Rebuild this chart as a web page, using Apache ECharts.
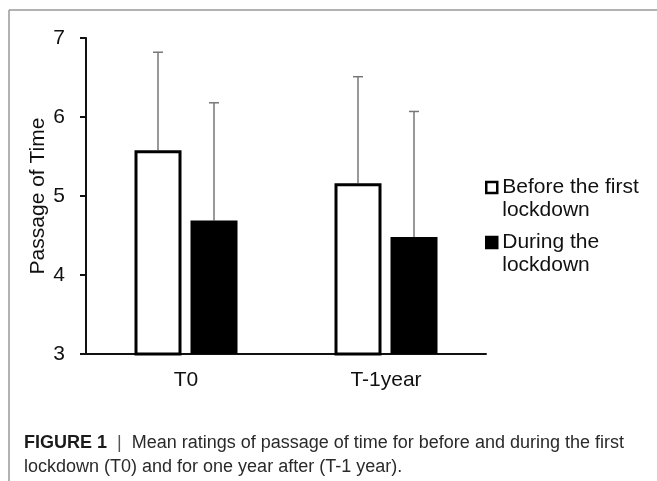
<!DOCTYPE html>
<html>
<head>
<meta charset="utf-8">
<script src="https://cdn.jsdelivr.net/npm/echarts@6/dist/echarts.min.js"></script>
<style>
html,body{margin:0;padding:0;background:#fff;}
#chart{width:657px;height:481px;}
</style>
</head>
<body>
<div id="chart"></div>
<script>
var categories = ['T0', 'T-1year'];
var seriesNames = ['Before the first lockdown', 'During the lockdown'];
var legendLines = [['Before the first', 'lockdown'], ['During the', 'lockdown']];
var beforeMeans = [5.58, 5.16];
var beforeUpper = [6.82, 6.51];
var duringMeans = [4.69, 4.48];
var duringUpper = [6.18, 6.07];
var yTicks = [3, 4, 5, 6, 7];

var BAR_W = 47;
var BAR_GAP_PX = 9;
var chart = echarts.init(document.getElementById('chart'));
var font = 'Liberation Sans, Arial, sans-serif';

function errorSeries(means, uppers, side) {
  var data = means.map(function (m, i) { return [i, m, uppers[i]]; });
  return {
    type: 'custom',
    silent: true,
    z: 1,
    data: data,
    renderItem: function (params, api) {
      var cat = api.value(0);
      var lo = api.coord([cat, api.value(1)]);
      var hi = api.coord([cat, api.value(2)]);
      var off = side * (BAR_W + BAR_GAP_PX) / 2;
      var x = lo[0] + off;
      var cap = 5;
      var st = { stroke: '#777', lineWidth: 1.5 };
      return {
        type: 'group',
        children: [
          { type: 'line', shape: { x1: x, y1: lo[1], x2: x, y2: hi[1] }, style: st },
          { type: 'line', shape: { x1: x - cap, y1: hi[1], x2: x + cap, y2: hi[1] }, style: st }
        ]
      };
    }
  };
}

chart.setOption({
  animation: false,
  backgroundColor: '#fff',
  grid: { left: 86, right: 171, top: 38, bottom: 127 },
  xAxis: {
    type: 'category',
    data: categories,
    axisLine: { lineStyle: { color: '#111', width: 2 } },
    axisTick: { show: false },
    axisLabel: { color: '#111', fontSize: 21, fontFamily: font, margin: 16 }
  },
  yAxis: {
    type: 'value',
    min: yTicks[0],
    max: yTicks[yTicks.length - 1],
    interval: 1,
    name: 'Passage of Time',
    nameLocation: 'middle',
    nameGap: 37,
    nameMoveOverlap: false,
    nameRotate: 90,
    nameTextStyle: { color: '#111', fontSize: 21, fontFamily: font },
    splitLine: { show: false },
    axisLine: { show: true, lineStyle: { color: '#111', width: 2 } },
    axisTick: { show: true, length: 6, lineStyle: { color: '#111', width: 2 } },
    axisLabel: { color: '#111', fontSize: 21, fontFamily: font, margin: 21 }
  },
  legend: {
    orient: 'vertical',
    left: 485,
    top: 153,
    padding: 0,
    itemWidth: 11,
    itemHeight: 11,
    itemGap: -14,
    data: seriesNames.map(function (n) {
      return { name: n, icon: 'rect', itemStyle: { borderColor: '#000', borderWidth: 2.5 } };
    }),
    formatter: function (n) {
      var l = legendLines[seriesNames.indexOf(n)];
      return ' \n' + l[0] + '\n' + l[1];
    },
    textStyle: { color: '#111', fontSize: 21, fontFamily: font, lineHeight: 23 }
  },
  series: [
    {
      name: seriesNames[0],
      type: 'bar',
      data: beforeMeans,
      barWidth: BAR_W,
      barGap: (BAR_GAP_PX / BAR_W * 100) + '%',
      itemStyle: { color: '#fff', borderColor: '#000', borderWidth: 3 },
      z: 2
    },
    {
      name: seriesNames[1],
      type: 'bar',
      data: duringMeans,
      barWidth: BAR_W,
      itemStyle: { color: '#000', borderColor: '#000', borderWidth: 0 },
      z: 2
    },
    errorSeries(beforeMeans, beforeUpper, -1),
    errorSeries(duringMeans, duringUpper, 1)
  ],
  graphic: [
    { type: 'line', shape: { x1: 9, y1: 10, x2: 657, y2: 10 }, style: { stroke: '#999', lineWidth: 1.5 } },
    { type: 'line', shape: { x1: 9, y1: 10, x2: 9, y2: 481 }, style: { stroke: '#999', lineWidth: 1.5 } },
    {
      type: 'text', left: 24, top: 431,
      style: {
        text: '{b|FIGURE 1}  {s||}  Mean ratings of passage of time for before and during the first\nlockdown (T0) and for one year after (T-1 year).',
        fontSize: 18, fontFamily: font, fill: '#2a2a2a', lineHeight: 24,
        rich: {
          b: { fontWeight: 'bold', fontSize: 18, fontFamily: font, fill: '#1a1a1a' },
          s: { fontSize: 18, fontFamily: font, fill: '#555' }
        }
      }
    }
  ]
});
</script>
</body>
</html>
